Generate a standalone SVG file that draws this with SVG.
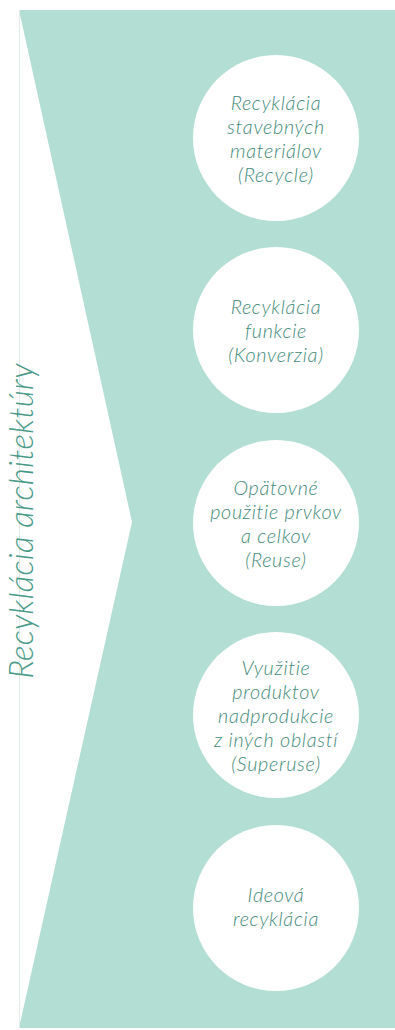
<svg xmlns="http://www.w3.org/2000/svg" width="395" height="1030" viewBox="0 0 395 1030">
  <style>
    .band { fill: #b2ded4; }
    .edge { stroke: #e3ebe8; stroke-width: 1; fill: none; }
    .node circle { fill: #ffffff; }
    .node text { font-family: Lato, "Open Sans", sans-serif; font-style: italic; font-weight: 300; font-size: 19.8px; letter-spacing: 0.7px; fill: #3f8a79; text-anchor: middle; }
    .title { font-family: Lato, "Open Sans", sans-serif; font-style: italic; font-weight: 300; font-size: 33px; letter-spacing: 0.3px; fill: #4a9a88; text-anchor: middle; }
  </style>

  <!-- background band with the notch on its left side -->
  <polygon class="band" points="19,10 395,10 395,1028 19,1028 132,522"/>
  <line class="edge" x1="19.5" y1="10" x2="19.5" y2="1028"/>

  <!-- vertical title -->
  <text class="title" transform="translate(33,521) rotate(-90)">Recyklácia architektúry</text>

  <g id="node-recycle" class="node">
    <circle cx="276" cy="138" r="83"/>
    <text x="276" y="110">Recyklácia<tspan x="276" dy="24">stavebných</tspan><tspan x="276" dy="24">materiálov</tspan><tspan x="276" dy="24">(Recycle)</tspan></text>
  </g>

  <g id="node-konverzia" class="node">
    <circle cx="276" cy="330" r="83"/>
    <text x="276" y="314">Recyklácia<tspan x="276" dy="24">funkcie</tspan><tspan x="276" dy="24">(Konverzia)</tspan></text>
  </g>

  <g id="node-reuse" class="node">
    <circle cx="276" cy="523" r="83"/>
    <text x="276" y="495">Opätovné<tspan x="276" dy="24">použitie prvkov</tspan><tspan x="276" dy="24">a celkov</tspan><tspan x="276" dy="24">(Reuse)</tspan></text>
  </g>

  <g id="node-superuse" class="node">
    <circle cx="276" cy="715" r="83"/>
    <text x="276" y="675">Využitie<tspan x="276" dy="24">produktov</tspan><tspan x="276" dy="24">nadprodukcie</tspan><tspan x="276" dy="24">z iných oblastí</tspan><tspan x="276" dy="24">(Superuse)</tspan></text>
  </g>

  <g id="node-ideova" class="node">
    <circle cx="276" cy="908" r="83"/>
    <text x="276" y="902">Ideová<tspan x="276" dy="24">recyklácia</tspan></text>
  </g>

  <!-- no connectors between the nodes -->
  <g id="connectors"/>
</svg>
